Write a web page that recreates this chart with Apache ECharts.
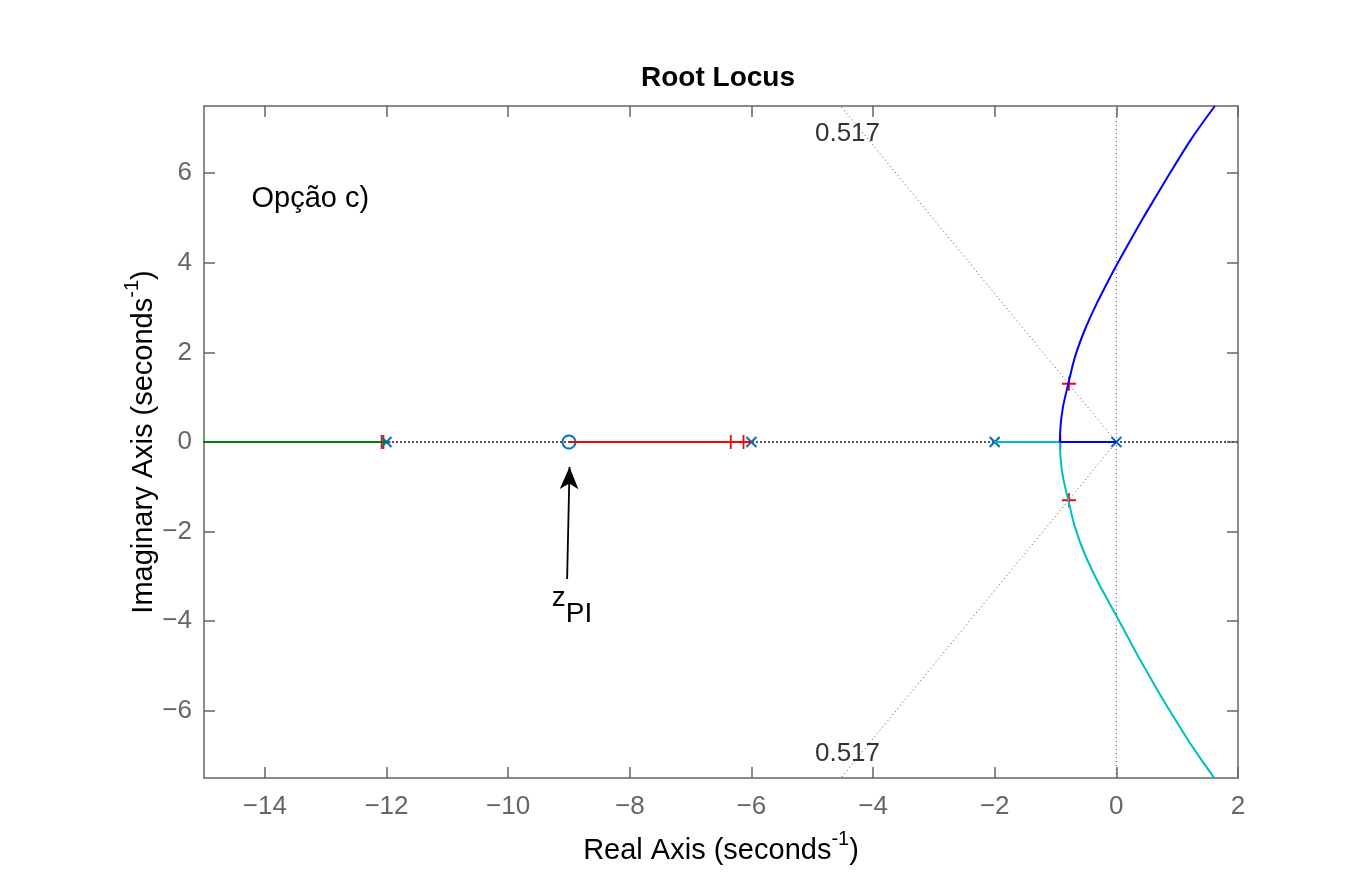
<!DOCTYPE html>
<html>
<head>
<meta charset="utf-8">
<title>Root Locus</title>
<script src="https://cdn.jsdelivr.net/npm/echarts@6/dist/echarts.min.js"></script>
<style>
html, body { margin: 0; padding: 0; background: #fff; }
#chart { width: 1367px; height: 875px; }
</style>
</head>
<body>
<div id="chart"></div>
<script>
// open loop poles / zero (real axis)
var polesRe = [0, -2, -6, -12];
var zerosRe = [-9];

// branches of the locus, [re, im]
var blueReal = [[0, 0], [-0.93, 0]];
var blueCurve = [[-0.93, 0], [-0.915, 0.4], [-0.875, 0.8], [-0.79, 1.3], [-0.68, 1.9], [-0.52, 2.5],
  [-0.32, 3.1], [-0.17, 3.5], [0, 3.94], [0.23, 4.5], [0.44, 5.0], [0.66, 5.5], [0.88, 6.0],
  [1.25, 6.8], [1.62, 7.5]];
var cyanReal = [[-2, 0], [-0.93, 0]];
var cyanCurve = [[-0.93, 0], [-0.915, -0.4], [-0.875, -0.8], [-0.79, -1.3], [-0.68, -1.9], [-0.52, -2.5],
  [-0.32, -3.08], [-0.17, -3.46], [0, -3.88], [0.23, -4.46], [0.44, -4.98], [0.66, -5.5], [0.88, -6.0],
  [1.25, -6.8], [1.61, -7.5]];
var redBranch = [[-6, 0], [-9, 0]];
var greenBranch = [[-12, 0], [-16, 0]];

// closed loop poles for the chosen gain
var gainPoints = [[-0.78, 1.3], [-0.78, -1.3], [-0.92, 0], [-6.34, 0], [-6.13, 0], [-12.08, 0], [-12.05, 0]];

// sgrid lines
var realGridLine = [[-15, 0], [2, 0]];
var imagGridLine = [[0, -7.5], [0, 7.5]];
var dampUp = [[0, 0], [-4.53, 7.5]];
var dampDown = [[0, 0], [-4.53, -7.5]];
var dampLabel = '0.517';
var dampLabelPos = [[-4.42, 6.87], [-4.42, -6.96]];

// axes
var xTicks = [-14, -12, -10, -8, -6, -4, -2, 0, 2];
var yTicks = [-6, -4, -2, 0, 2, 4, 6];

// annotations
var noteText = 'Opção c)';
var notePos = [-14.22, 5.43];
var arrowFrom = [-9.03, -3.06];
var arrowTo = [-8.99, -0.56];
var zpiPos = [-8.95, -3.66];

var font = '"Liberation Sans", Arial, Helvetica, sans-serif';
var axisGray = '#666666';

var chart = echarts.init(document.getElementById('chart'));

function boxAxis(pos, isX, showLabel) {
  return {
    type: 'value',
    position: pos,
    min: isX ? -15 : -7.5,
    max: isX ? 2 : 7.5,
    axisLine: { show: true, onZero: false, lineStyle: { color: axisGray, width: 1.5 } },
    axisTick: { show: true, inside: true, length: 11, customValues: isX ? xTicks : yTicks,
      lineStyle: { color: axisGray, width: 1.5 } },
    axisLabel: {
      show: showLabel, customValues: isX ? xTicks : yTicks, color: axisGray,
      fontSize: 26, fontFamily: font, margin: isX ? 16 : 12,
      formatter: function (v) { return String(v).replace('-', '\u2212'); }
    },
    splitLine: { show: false }
  };
}

var nameStyle = {
  rich: {
    a: { fontSize: 29, fontFamily: font, color: '#000', lineHeight: 36, verticalAlign: 'bottom' },
    sup: { fontSize: 20, fontFamily: font, color: '#000', lineHeight: 12, verticalAlign: 'top' }
  }
};

var xBottom = boxAxis('bottom', true, true);
xBottom.name = '{a|Real Axis (seconds}{sup|-1}{a|)}';
xBottom.nameLocation = 'middle';
xBottom.nameGap = 51;
xBottom.nameMoveOverlap = false;
xBottom.nameTextStyle = nameStyle;

var yLeft = boxAxis('left', false, true);
yLeft.name = '{a|Imaginary Axis (seconds}{sup|-1}{a|)}';
yLeft.nameLocation = 'middle';
yLeft.nameGap = 46;
yLeft.nameRotate = 90;
yLeft.nameMoveOverlap = false;
yLeft.nameTextStyle = nameStyle;

function lineSeries(data, color, width, type, smooth) {
  return {
    type: 'line', data: data, symbol: 'none', silent: true, animation: false,
    smooth: smooth || false,
    lineStyle: { color: color, width: width, type: type || 'solid' }
  };
}

function markerSeries(data, symbol, size, color, width) {
  return {
    type: 'scatter', data: data, silent: true, animation: false,
    symbol: symbol, symbolSize: size,
    itemStyle: { color: 'transparent', borderColor: color, borderWidth: width, opacity: 1 }
  };
}

function textSeries(points, text, align, size, color, rich) {
  return {
    type: 'scatter', symbolSize: 0, silent: true, animation: false,
    data: points,
    itemStyle: { opacity: 1 },
    label: {
      show: true, position: [0, 0], align: align, verticalAlign: 'middle',
      formatter: text, fontSize: size, fontFamily: font, color: color, rich: rich
    }
  };
}

chart.setOption({
  backgroundColor: '#fff',
  animation: false,
  title: {
    text: 'Root Locus', left: 636, top: 59,
    textStyle: { fontSize: 28, fontWeight: 'bold', fontFamily: font, color: '#000' }
  },
  grid: { left: 204, right: 129, top: 106, bottom: 97 },
  xAxis: [xBottom, boxAxis('top', true, false)],
  yAxis: [yLeft, boxAxis('right', false, false)],
  series: [
    lineSeries(realGridLine, '#555', 2, [2, 2]),
    lineSeries(imagGridLine, '#555', 1, [1, 3]),
    lineSeries(dampUp, '#555', 1, [1, 3]),
    lineSeries(dampDown, '#555', 1, [1, 3]),
    lineSeries(greenBranch, '#008000', 2),
    lineSeries(redBranch, '#ff0000', 2),
    lineSeries(cyanReal, '#00bfbf', 2),
    lineSeries(cyanCurve, '#00bfbf', 2, 'solid', 0.3),
    lineSeries(blueReal, '#0000ff', 2),
    lineSeries(blueCurve, '#0000ff', 2, 'solid', 0.3),
    markerSeries(gainPoints, 'path://M0,-6L0,6M-6,0L6,0', 14, '#ff0000', 1.8),
    markerSeries(polesRe.map(function (p) { return [p, 0]; }), 'path://M0,0L10,10M10,0L0,10', 10, '#0072bd', 2),
    markerSeries(zerosRe.map(function (z) { return [z, 0]; }), 'circle', 13, '#0072bd', 2),
    {
      type: 'line', data: [], silent: true, animation: false,
      markLine: {
        silent: true, animation: false,
        symbol: ['none', 'arrow'], symbolSize: [14, 22],
        label: { show: false },
        lineStyle: { color: '#000', width: 1.8, type: 'solid' },
        data: [[{ coord: arrowFrom }, { coord: arrowTo }]]
      }
    },
    textSeries([notePos], noteText, 'left', 29, '#000'),
    textSeries(dampLabelPos, dampLabel, 'center', 26, '#333'),
    textSeries([zpiPos], '{z|z}{s|PI}', 'center', 28, '#000', {
      z: { fontSize: 28, fontFamily: font, color: '#000', lineHeight: 30, verticalAlign: 'top' },
      s: { fontSize: 28, fontFamily: font, color: '#000', lineHeight: 44, verticalAlign: 'bottom' }
    })
  ]
});
</script>
</body>
</html>
